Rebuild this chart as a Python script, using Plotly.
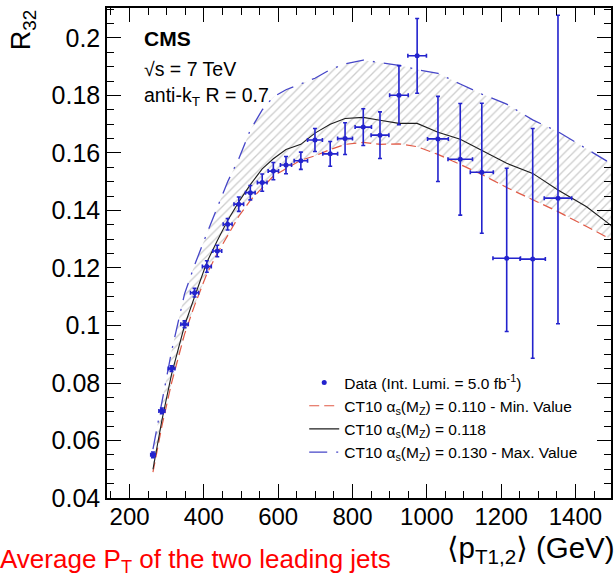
import plotly.graph_objects as go

# ---------------- data ----------------
pt_data = [263, 287, 313, 348, 375, 408, 436, 464, 494, 525, 557, 587, 621, 661, 699,
           740, 780, 829, 874, 925, 974, 1030, 1090, 1148, 1215, 1285, 1353]
r32_data = [0.0550, 0.0703, 0.0850, 0.1004, 0.1114, 0.1205, 0.1259, 0.1352, 0.1422,
            0.1462, 0.1497, 0.1537, 0.1558, 0.1573, 0.1645, 0.1597, 0.1650, 0.1690,
            0.1662, 0.1801, 0.1938, 0.1649, 0.1578, 0.1533, 0.1234, 0.1231, 0.1443]
err_up = [0.0010, 0.0010, 0.0010, 0.0012, 0.0015, 0.0020, 0.0020, 0.0020, 0.0025,
          0.0025, 0.0030, 0.0030, 0.0030, 0.0030, 0.0040, 0.0043, 0.0055, 0.0064,
          0.0081, 0.0103, 0.0130, 0.0148, 0.0194, 0.0240, 0.0313, 0.0454, 0.0636]
err_dn = [0.0010, 0.0010, 0.0010, 0.0012, 0.0015, 0.0020, 0.0020, 0.0020, 0.0025,
          0.0025, 0.0030, 0.0030, 0.0030, 0.0030, 0.0040, 0.0043, 0.0055, 0.0064,
          0.0081, 0.0103, 0.0130, 0.0148, 0.0194, 0.0212, 0.0255, 0.0345, 0.0437]
pt_halfwidth = [6, 8, 9, 10, 11, 12, 12, 12, 13, 13, 13, 14, 15, 18, 20,
                20, 20, 22, 24, 25, 25, 28, 33, 31, 37, 34, 37]

pt_theory = [263, 287, 313, 348, 375, 408, 436, 464, 494, 525, 557, 587, 621, 661, 699,
             740, 780, 829, 874, 925, 974, 1030, 1090, 1148, 1215, 1285, 1353, 1430, 1500]
r32_central = [0.0500, 0.0670, 0.0830, 0.1000, 0.1100, 0.1220, 0.1295, 0.1365, 0.1430,
               0.1490, 0.1545, 0.1580, 0.1612, 0.1630, 0.1669, 0.1700, 0.1720, 0.1724,
               0.1714, 0.1703, 0.1703, 0.1672, 0.1648, 0.1610, 0.1564, 0.1529, 0.1471,
               0.1413, 0.1344]
r32_min = [0.0490, 0.0650, 0.0800, 0.0970, 0.1070, 0.1180, 0.1250, 0.1315, 0.1380,
           0.1435, 0.1480, 0.1520, 0.1545, 0.1575, 0.1590, 0.1612, 0.1630, 0.1637,
           0.1630, 0.1632, 0.1622, 0.1595, 0.1560, 0.1525, 0.1480, 0.1437, 0.1396,
           0.1344, 0.1297]
r32_max = [0.0570, 0.0740, 0.0910, 0.1110, 0.1210, 0.1320, 0.1410, 0.1500, 0.1580,
           0.1680, 0.1750, 0.1795, 0.1820, 0.1840, 0.1860, 0.1890, 0.1910, 0.1923,
           0.1915, 0.1905, 0.1890, 0.1877, 0.1840, 0.1805, 0.1770, 0.1715, 0.1674,
           0.1615, 0.1560]

x_tickvals = [200, 400, 600, 800, 1000, 1200, 1400]
x_ticktext = ["200", "400", "600", "800", "1000", "1200", "1400"]
y_tickvals = [0.04, 0.06, 0.08, 0.1, 0.12, 0.14, 0.16, 0.18, 0.2]
y_ticktext = ["0.04", "0.06", "0.08", "0.1", "0.12", "0.14", "0.16", "0.18", "0.2"]

FONT = "Liberation Sans, Arial, DejaVu Sans, sans-serif"
BLUE = "rgb(35,35,205)"

fig = go.Figure()

# hatched band between min and max
fig.add_trace(go.Scatter(x=pt_theory, y=r32_max, mode="lines",
                         line=dict(width=0, color="rgba(0,0,0,0)"),
                         showlegend=False, hoverinfo="skip"))
fig.add_trace(go.Scatter(x=pt_theory, y=r32_min, mode="lines",
                         line=dict(width=0, color="rgba(0,0,0,0)"),
                         fill="tonexty", fillcolor="rgba(0,0,0,0)",
                         fillpattern=dict(shape="/", fgcolor="rgba(130,130,130,0.8)",
                                          bgcolor="rgba(255,255,255,0)", size=6,
                                          solidity=0.22),
                         showlegend=False, hoverinfo="skip"))

fig.add_trace(go.Scatter(x=pt_theory, y=r32_min, mode="lines",
                         line=dict(color="rgb(225,90,70)", width=1.2, dash="10px,5px"),
                         name="CT10 α<sub>s</sub>(M<sub>Z</sub>) = 0.110 - Min. Value",
                         legendrank=2, legendgroup="b"))
fig.add_trace(go.Scatter(x=pt_theory, y=r32_central, mode="lines",
                         line=dict(color="rgb(30,30,30)", width=1.1),
                         name="CT10 α<sub>s</sub>(M<sub>Z</sub>) = 0.118",
                         legendrank=3, legendgroup="c"))
fig.add_trace(go.Scatter(x=pt_theory, y=r32_max, mode="lines",
                         line=dict(color="rgb(70,70,200)", width=1.3, dash="18px,9px,2px,9px"),
                         name="CT10 α<sub>s</sub>(M<sub>Z</sub>) = 0.130 - Max. Value",
                         legendrank=4, legendgroup="d"))

fig.add_trace(go.Scatter(x=pt_data, y=r32_data, mode="markers",
                         marker=dict(color=BLUE, size=5, symbol="circle"),
                         error_y=dict(type="data", symmetric=False, array=err_up,
                                      arrayminus=err_dn, color=BLUE, thickness=1.6, width=2),
                         error_x=dict(type="data", array=pt_halfwidth, color=BLUE,
                                      thickness=1.6, width=2),
                         name="Data (Int. Lumi. = 5.0 fb<sup>-1</sup>)",
                         legendrank=1, legendgroup="a"))

axis_common = dict(showline=True, linecolor="black", linewidth=1.5, mirror="ticks",
                   ticks="inside", ticklen=14, tickwidth=1.3, tickcolor="black",
                   showgrid=False, zeroline=False)

fig.update_xaxes(range=[139.3, 1495.7], tickvals=x_tickvals, ticktext=x_ticktext,
                 tickfont=dict(family=FONT, size=24, color="black"),
                 ticklabelstandoff=-4,
                 minor=dict(ticks="inside", ticklen=7, tickwidth=1.2, tickcolor="black",
                            dtick=50, tick0=0, showgrid=False),
                 **axis_common)
fig.update_yaxes(range=[0.04, 0.21043], tickvals=y_tickvals, ticktext=y_ticktext,
                 tickfont=dict(family=FONT, size=25, color="black"),
                 minor=dict(ticks="inside", ticklen=7, tickwidth=1.2, tickcolor="black",
                            dtick=0.005, tick0=0.04, showgrid=False),
                 **axis_common)

PL, PR, PT, PB = 107, 613, 8, 498


def px(xp):
    return (xp - PL) / (PR - PL)


def py(yp):
    return (PB - yp) / (PB - PT)


annotations = [
    dict(text="<b>CMS</b>", x=px(142), y=py(39), xanchor="left", yanchor="middle",
         font=dict(family=FONT, size=21, color="black")),
    dict(text="√s = 7 TeV", x=px(142), y=py(69), xanchor="left", yanchor="middle",
         font=dict(family=FONT, size=19.5, color="black")),
    dict(text="anti-k<sub>T</sub> R = 0.7", x=px(142), y=py(96), xanchor="left",
         yanchor="middle", font=dict(family=FONT, size=19.5, color="black")),
    dict(text="R<sub>32</sub>", x=px(23), y=py(30), xanchor="center", yanchor="middle",
         textangle=-90, font=dict(family=FONT, size=27, color="black")),
    dict(text="⟨p<sub>T1,2</sub>⟩ (GeV)",
         x=px(619), y=py(549), xanchor="right",
         yanchor="middle", font=dict(family=FONT, size=29.5, color="black")),
    dict(text="Average P<sub>T</sub> of the two leading jets", x=px(394), y=py(560),
         xanchor="right", yanchor="middle", font=dict(family=FONT, size=26, color="red")),
]
for a in annotations:
    a.update(xref="paper", yref="paper", showarrow=False)

fig.update_layout(
    width=615, height=577,
    margin=dict(l=PL, r=615 - PR, t=PT, b=577 - PB, pad=0),
    paper_bgcolor="white", plot_bgcolor="white",
    annotations=annotations,
    legend=dict(x=px(305), y=py(366), xanchor="left", yanchor="top",
                bgcolor="rgba(0,0,0,0)", font=dict(family=FONT, size=15.5, color="black"),
                tracegroupgap=0, itemwidth=30),
    showlegend=True,
)

fig.write_html("out.html", config={"displayModeBar": False},
               post_script="document.body.style.margin='0';document.body.style.overflow='hidden';")
